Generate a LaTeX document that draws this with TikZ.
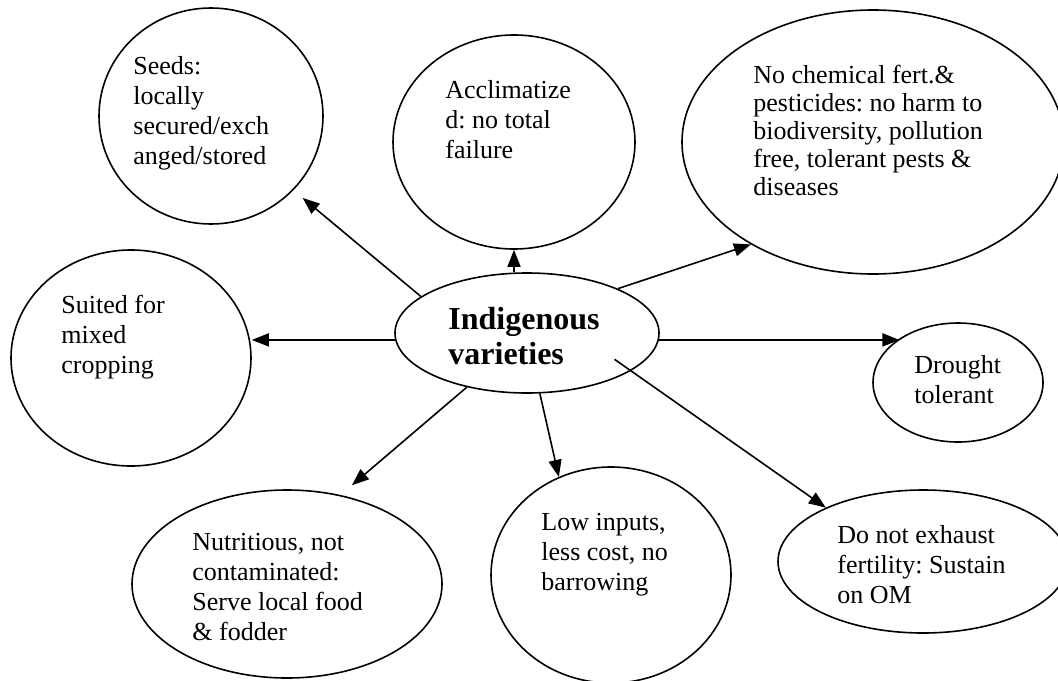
\documentclass[tikz,border=0pt]{standalone}
\usepackage{fontspec}
\setmainfont{Liberation Serif}
\usetikzlibrary{shapes.geometric,arrows.meta}
\frenchspacing

\begin{document}
\begin{tikzpicture}[x=0.5pt,y=-0.5pt,
        bubble/.style={draw, ellipse, line width=0.8pt, inner sep=0pt},
        txt/.style={align=left, anchor=base west, inner sep=0pt, font=\fontsize{13}{15}\selectfont},
        link/.style={line width=0.8pt, -{Triangle[length=8.5pt,width=6.5pt]}}]
        \useasboundingbox (0,0) rectangle (1058,680);

        % ellipses
        \node[bubble, minimum width=132pt, minimum height=60pt] (iv) at (527,333) {};
        \node[bubble, minimum width=112pt, minimum height=108pt] (seeds) at (211,116) {};
        \node[bubble, minimum width=121pt, minimum height=107pt] (accl) at (514,142) {};
        \node[bubble, minimum width=191pt, minimum height=132pt] (nochem) at (873,142) {};
        \node[bubble, minimum width=120pt, minimum height=108pt] (suited) at (131,358) {};
        \node[bubble, minimum width=85pt, minimum height=59.5pt] (drought) at (958,382.5) {};
        \node[bubble, minimum width=145pt, minimum height=71.5pt] (donot) at (923,561.5) {};
        \node[bubble, minimum width=120pt, minimum height=108pt] (lowin) at (611,575) {};
        \node[bubble, minimum width=155pt, minimum height=94pt] (nutri) at (287,584) {};

        % texts (placed by the baseline of their last line)
        \node[txt, font=\fontsize{16}{17.5}\selectfont\bfseries] (ivText) at (448,364) {Indigenous\\varieties};
        \node[txt] (seedsText) at (133,164) {Seeds:\\locally\\secured/exch\\anged/stored};
        \node[txt] (acclText) at (445,158) {Acclimatize\\d: no total\\failure};
        \node[txt, font=\fontsize{13}{14}\selectfont] (nochemText) at (753,195) {No chemical fert.\&\\pesticides: no harm to\\biodiversity, pollution\\free, tolerant pests \&\\diseases};
        \node[txt] (suitedText) at (61,373) {Suited for\\mixed\\cropping};
        \node[txt] (droughtText) at (914,403) {Drought\\tolerant};
        \node[txt] (donotText) at (837,603) {Do not exhaust\\fertility: Sustain\\on OM};
        \node[txt] (lowinText) at (541,590) {Low inputs,\\less cost, no\\barrowing};
        \node[txt] (nutriText) at (192,640) {Nutritious, not\\contaminated:\\Serve local food\\\& fodder};

        % arrows
        \draw[link, shorten >=6pt] (iv.161) -- (seeds.-42);
        \draw[link] (accl.south |- iv.north) -- (accl.south);
        \draw[link] (iv.26) -- (nochem.220);
        \draw[link] (iv.183) -- (iv.183 -| suited.east);
        \draw[link] (iv.-3) -- (iv.-3 -| drought.143);
        \draw[link, shorten <=-10pt] (iv.-20) -- (donot.151);
        \draw[link] (iv.-78) -- (lowin.118);
        \draw[link, shorten >=7.5pt] (iv.-138) -- (nutri.59);
    \end{tikzpicture}
\end{document}
